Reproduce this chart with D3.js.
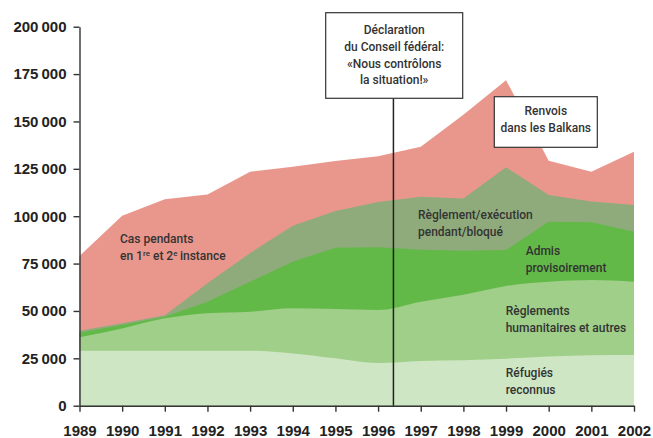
<!DOCTYPE html>
<html>
<head>
    <meta charset="utf-8">
    <script src="https://d3js.org/d3.v7.min.js"></script>
    <title>Asile - cas pendants</title>
    <style>
        body { margin: 0; background: #fff; }
        svg { display: block; }
        .lbl { font-family: Roboto, "Liberation Sans", Arial, sans-serif; font-size: 12px; font-weight: 500; fill: #333; }
        .axis text { font-family: "Liberation Sans", Arial, sans-serif; font-size: 15px; font-weight: bold; fill: #222; }
        .axis path, .axis line { stroke: #333; stroke-width: 1.4px; }
    </style>
</head>
<body>
<svg width="653" height="438"></svg>
<script>
    // years on the x axis
    const years = [1989, 1990, 1991, 1992, 1993, 1994, 1995, 1996, 1997, 1998, 1999, 2000, 2001, 2002];

    // series values (persons), bottom to top
    const refugies    = [29000, 29000, 29000, 29000, 29000, 27600, 25000, 22500, 23600, 24000, 24800, 25900, 26600, 26800];
    const humanitaire = [7100, 11800, 17100, 19800, 20600, 23800, 26000, 28000, 31300, 34600, 38400, 39500, 39700, 38600];
    const admis       = [2400, 1800, 900, 6100, 15800, 24600, 32400, 33100, 27400, 23200, 19000, 31700, 30500, 26400];
    const bloque      = [1100, 900, 700, 9700, 15200, 19000, 19300, 23900, 28000, 27500, 43600, 14100, 10900, 14100];
    const pendants    = [39400, 56800, 61300, 46900, 42900, 31100, 26400, 24100, 26400, 44200, 46000, 18100, 15800, 28100];

    const yTicks = [0, 25000, 50000, 75000, 100000, 125000, 150000, 175000, 200000];
    const declarationYear = 1996.36;

    const keys = ["refugies", "humanitaire", "admis", "bloque", "pendants"];
    const colors = {
        refugies: "#cfe6c4",
        humanitaire: "#9fcf89",
        admis: "#62b947",
        bloque: "#8fab7b",
        pendants: "#e9978d"
    };
    const curves = {
        refugies: d3.curveMonotoneX,
        humanitaire: d3.curveMonotoneX,
        admis: d3.curveLinear,
        bloque: d3.curveLinear,
        pendants: d3.curveLinear
    };

    const table = years.map((yr, i) => ({
        year: yr,
        refugies: refugies[i],
        humanitaire: humanitaire[i],
        admis: admis[i],
        bloque: bloque[i],
        pendants: pendants[i]
    }));

    const svg = d3.select("svg");

    const x = d3.scaleLinear().domain([1989, 2002]).range([79.5, 634]);
    const y = d3.scaleLinear().domain([0, 200000]).range([405.7, 26.7]);

    const series = d3.stack().keys(keys)(table);

    // paint each layer from zero to its cumulative top, top layer first
    const g = svg.append("g");
    series.slice().reverse().forEach(s => {
        const area = d3.area()
            .x(d => x(d.data.year))
            .y0(y(0))
            .y1(d => y(d[1]))
            .curve(curves[s.key]);
        g.append("path")
            .datum(s)
            .attr("fill", colors[s.key])
            .attr("d", area);
    });

    // axes
    const fmt = v => d3.format(",")(v).replace(/,/g, "\u2009");
    svg.append("g")
        .attr("class", "axis")
        .attr("transform", `translate(${x(1989)},0)`)
        .call(d3.axisLeft(y).tickValues(yTicks).tickFormat(fmt).tickSize(6).tickPadding(7).tickSizeOuter(0));

    svg.append("g")
        .attr("class", "axis")
        .attr("transform", `translate(0,${y(0)})`)
        .call(d3.axisBottom(x).tickValues(years).tickFormat(d3.format("d")).tickSize(6).tickPadding(14).tickSizeOuter(0));

    // declaration line and box
    const lx = x(declarationYear);
    svg.append("line")
        .attr("x1", lx).attr("x2", lx)
        .attr("y1", 98).attr("y2", y(0))
        .attr("stroke", "#222").attr("stroke-width", 1.5);

    function box(x0, y0, w, h, lines, firstBase, step) {
        svg.append("rect")
            .attr("x", x0).attr("y", y0).attr("width", w).attr("height", h)
            .attr("fill", "#fff").attr("stroke", "#333").attr("stroke-width", 1.2);
        lines.forEach((t, i) => {
            svg.append("text")
                .attr("class", "lbl")
                .attr("x", x0 + w / 2)
                .attr("y", firstBase + i * step)
                .attr("text-anchor", "middle")
                .text(t);
        });
    }

    box(325.7, 12.7, 137, 85.6, ["Déclaration", "du Conseil fédéral:", "«Nous contrôlons", "la situation!»"], 34, 16.8);
    box(494.3, 96.7, 103, 50.6, ["Renvois", "dans les Balkans"], 115, 16.7);

    // layer labels
    function label(x0, base, lines) {
        lines.forEach((t, i) => {
            svg.append("text")
                .attr("class", "lbl")
                .attr("x", x0)
                .attr("y", base + i * 17)
                .text(t);
        });
    }

    label(120, 243, ["Cas pendants"]);
    const t2 = svg.append("text").attr("class", "lbl").attr("x", 120).attr("y", 260);
    t2.append("tspan").text("en 1");
    t2.append("tspan").attr("dy", -4).attr("font-size", "8px").text("re");
    t2.append("tspan").attr("dy", 4).text(" et 2");
    t2.append("tspan").attr("dy", -4).attr("font-size", "8px").text("e");
    t2.append("tspan").attr("dy", 4).text("\u2009instance");

    label(418, 219, ["Règlement/exécution", "pendant/bloqué"]);
    label(525.7, 255, ["Admis", "provisoirement"]);
    label(505.7, 315, ["Règlements", "humanitaires et autres"]);
    label(505.7, 377, ["Réfugiés", "reconnus"]);
</script>
</body>
</html>
